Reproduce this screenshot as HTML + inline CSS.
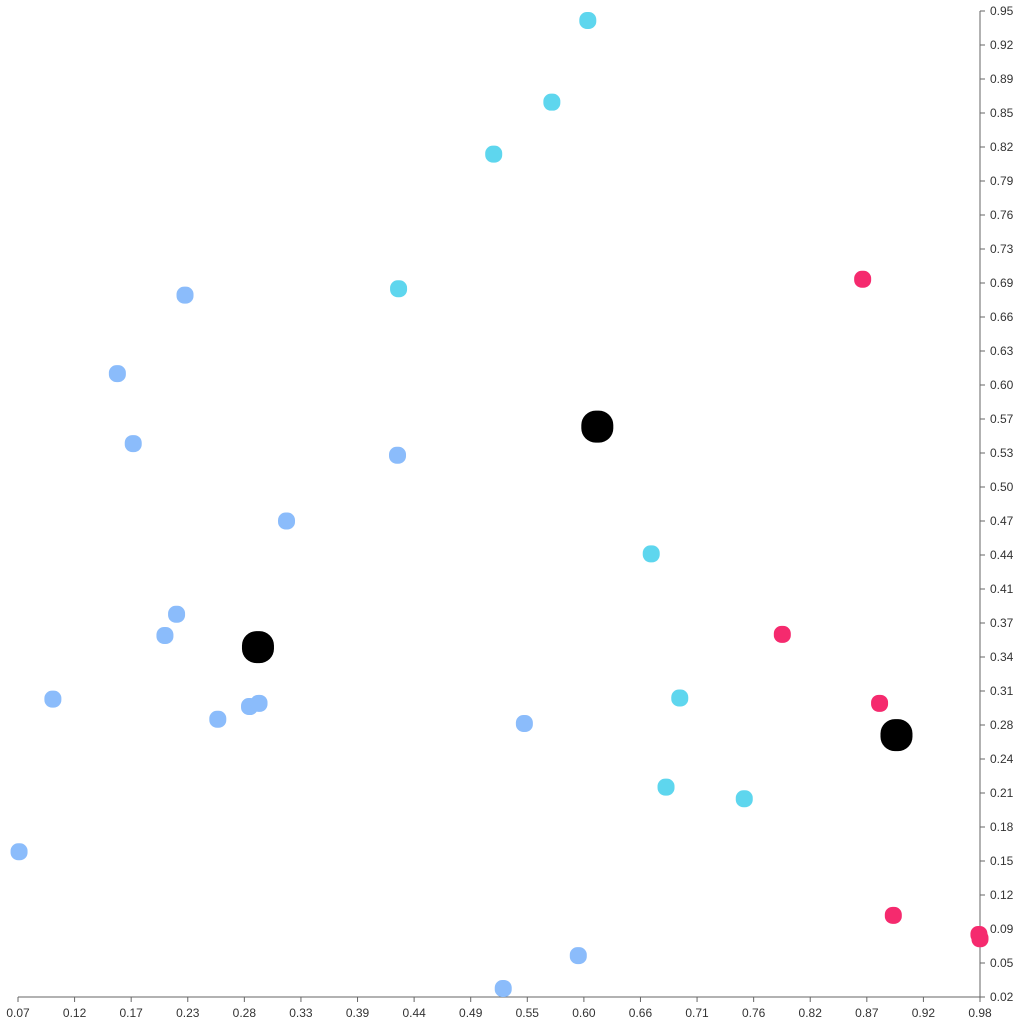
<!DOCTYPE html>
<html><head><meta charset="utf-8"><style>
html,body{margin:0;padding:0;background:#fff;}
svg{display:block;font-family:"Liberation Sans",sans-serif;}
</style></head><body>
<svg id="chart" width="1024" height="1024" viewBox="0 0 1024 1024">
<g id="axes"></g>
<g id="marks"></g>
</svg>
<script>
const xTicks=["0.07","0.12","0.17","0.23","0.28","0.33","0.39","0.44","0.49","0.55","0.60","0.66","0.71","0.76","0.82","0.87","0.92","0.98"];
const yTicks=["0.95","0.92","0.89","0.85","0.82","0.79","0.76","0.73","0.69","0.66","0.63","0.60","0.57","0.53","0.50","0.47","0.44","0.41","0.37","0.34","0.31","0.28","0.24","0.21","0.18","0.15","0.12","0.09","0.05","0.02"];
const blueX=[0.228,0.164,0.179,0.429,0.324,0.220,0.209,0.103,0.259,0.289,0.298,0.549,0.071,0.600,0.529];
const blueY=[0.682,0.608,0.542,0.531,0.469,0.381,0.361,0.301,0.282,0.294,0.297,0.278,0.157,0.059,0.028];
const cyanX=[0.609,0.575,0.520,0.430,0.669,0.696,0.683,0.757];
const cyanY=[0.941,0.864,0.815,0.688,0.438,0.302,0.218,0.207];
const pinkX=[0.869,0.793,0.885,0.898,0.979,0.980];
const pinkY=[0.697,0.362,0.297,0.097,0.079,0.075];
const centerX=[0.618,0.297,0.901];
const centerY=[0.558,0.350,0.267];

const X0=18,X1=980,Y0=997,Y1=11;
const xs=v=>X0+(v-0.07)/(0.98-0.07)*(X1-X0);
const ys=v=>Y0-(v-0.02)/(0.95-0.02)*(Y0-Y1);
const NS="http://www.w3.org/2000/svg";
const axes=document.getElementById('axes'),marks=document.getElementById('marks');
function mk(t,a,p){const e=document.createElementNS(NS,t);for(const k in a)e.setAttribute(k,a[k]);p.appendChild(e);return e;}
const xa=mk('line',{x1:X0,y1:Y0,x2:X1,y2:Y0,stroke:'#666','stroke-width':1},axes);


const ya=mk('line',{x1:X1,y1:Y1,x2:X1,y2:Y0,stroke:'#666','stroke-width':1},axes);


xTicks.forEach((t,i)=>{
  const x=X0+i*(X1-X0)/(xTicks.length-1);
  const l=mk('line',{x1:x,y1:Y0,x2:x,y2:Y0+5,stroke:'#666'},axes);
  
  
  const tx=mk('text',{x:x,y:Y0+20,'font-size':12,'text-anchor':'middle',fill:'#333'},axes);
  tx.textContent=t;
  
  
});
yTicks.forEach((t,i)=>{
  const y=Y1+i*(Y0-Y1)/(yTicks.length-1);
  const l=mk('line',{x1:X1,y1:y,x2:X1+5,y2:y,stroke:'#666'},axes);
  
  
  const tx=mk('text',{x:X1+10,y:y+4,'font-size':12,fill:'#333'},axes);
  tx.textContent=t;
  
  
});
function series(xv,yv,color,size,name){
  xv.forEach((v,i)=>{
    const r=mk('rect',{x:xs(v)-size/2,y:ys(yv[i])-size/2,width:size,height:size,rx:size*0.45,fill:color},marks);
    
    
  });
}
series(blueX,blueY,'#8bbcfb',17,'point-blue');
series(cyanX,cyanY,'#5ed6ee',17,'point-cyan');
series(pinkX,pinkY,'#f52a6e',17,'point-pink');
series(centerX,centerY,'#000',32,'centroid');
</script>
</body></html>
